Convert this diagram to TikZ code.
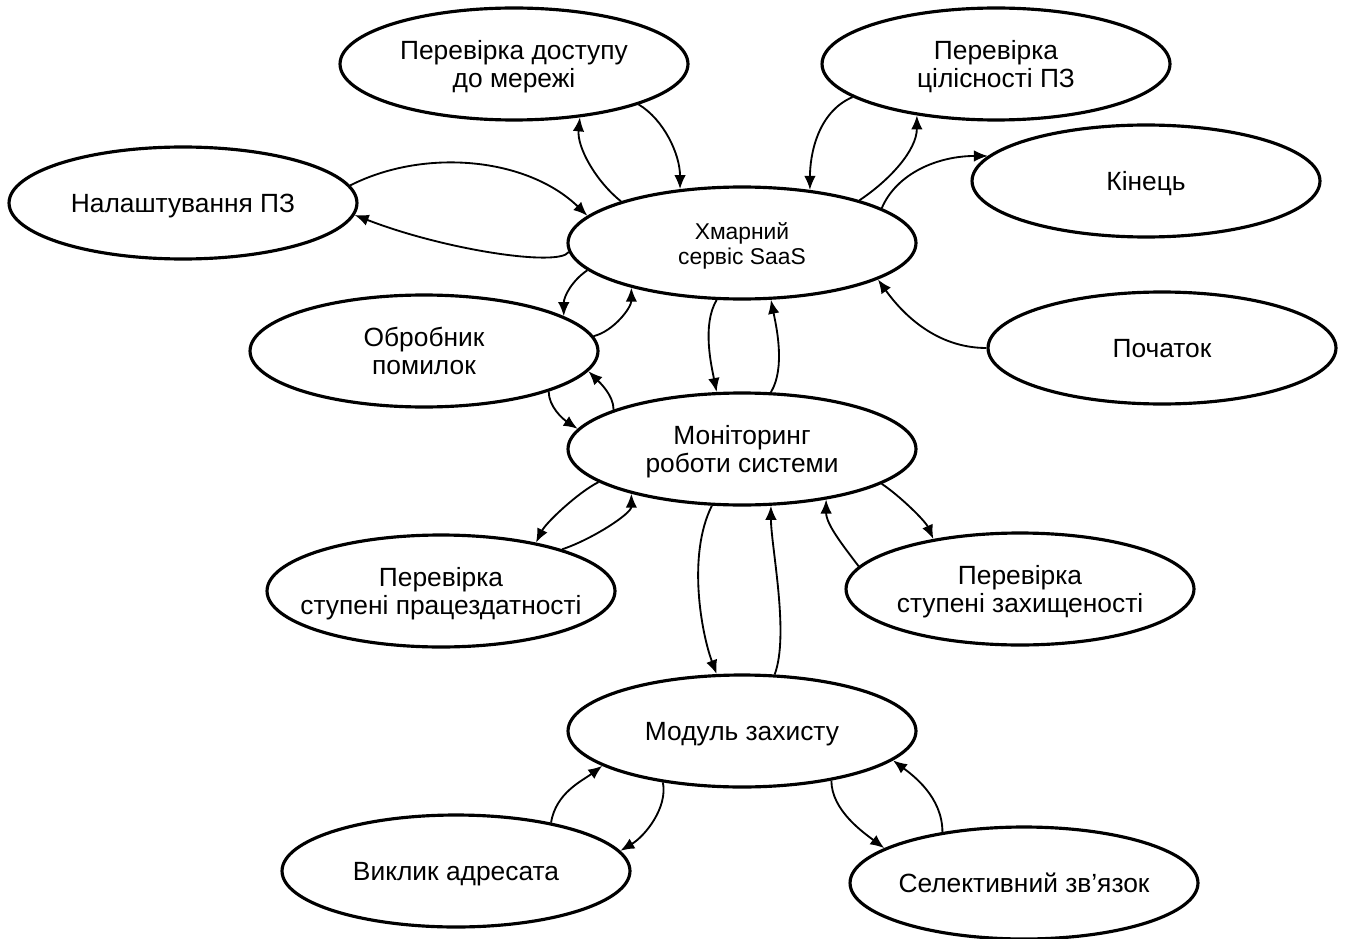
\documentclass[tikz,border=0pt]{standalone}
\usepackage{fontspec}
\setmainfont{Liberation Sans}
\usetikzlibrary{arrows.meta,shapes.geometric}
% label that does not widen its oval; the text sits a little below the middle
\newcommand\ovaltext[1]{\makebox[0pt]{\raisebox{-2.2pt}[\height][\depth]{\begin{tabular}{@{}c@{}}#1\end{tabular}}}}
\begin{document}
\begin{tikzpicture}[x=0.02cm,y=-0.02cm,
  state/.style={ellipse, draw, line width=1.8pt, minimum width=6.96cm,
    minimum height=2.24cm, inner sep=0pt, align=center,
    font=\fontsize{15}{16}\selectfont},
  link/.style={line width=1.05pt, -{Latex[length=2.8mm,width=2.3mm]}}]
\fill[white] (0,0) rectangle (1348,939);
\useasboundingbox (0,0) rectangle (1348,939);

% states
\node[state] (dost) at (514,64)  {\ovaltext{Перевірка доступу\\до мережі}};
\node[state] (cil)  at (996,64)  {\ovaltext{Перевірка\\цілісності ПЗ}};
\node[state] (nal)  at (183,203) {\ovaltext{Налаштування ПЗ}};
\node[state, font=\fontsize{13}{14}\selectfont] (saas) at (742,243) {\ovaltext{Хмарний\\сервіс SaaS}};
\node[state] (kin)  at (1146,181) {\ovaltext{Кінець}};
\node[state] (poch) at (1162,348) {\ovaltext{Початок}};
\node[state] (obr)  at (424,351) {\ovaltext{Обробник\\помилок}};
\node[state] (mon)  at (742,449) {\ovaltext{Моніторинг\\роботи системи}};
\node[state] (prac) at (441,591) {\ovaltext{Перевірка\\ступені працездатності}};
\node[state] (zax)  at (1020,589) {\ovaltext{Перевірка\\ступені захищеності}};
\node[state] (mod)  at (742,731) {\ovaltext{Модуль захисту}};
\node[state] (vyk)  at (456,871) {\ovaltext{Виклик адресата}};
\node[state] (sel)  at (1024,883) {\ovaltext{Селективний зв’язок}};

% transitions around the cloud service
\draw[link] (dost.-18) .. controls +(25,15) and +(0,-35) .. (saas.139);
\draw[link] (saas.161) .. controls +(-25,-20) and +(-3,30) .. (dost.-39);
\draw[link] (nal.6) .. controls +(75,-38) and +(-60,-58) .. (saas.170);
\draw[link] (saas.183) .. controls +(-10,15) and +(90,35) .. (nal.-4);
\draw[link] (saas.190) .. controls +(-15,10) and +(0,-20) .. (obr.14);
\draw[link] (obr.5) .. controls +(20,-5) and +(0,20) .. (saas.-158);
\draw[link] (saas.-114) .. controls +(-15,25) and +(-5,-25) .. (mon.114);
\draw[link] (mon.63) .. controls +(15,-25) and +(5,25) .. (saas.-63);
\draw[link] (saas.14) .. controls +(15,-35) and +(-50,0) .. (kin.171);
\draw[link] (saas.20) .. controls +(30,-20) and +(0,35) .. (cil.-147);
\draw[link] (cil.-167) .. controls +(-35,15) and +(0,-35) .. (saas.38);
\draw[link] (poch.west) .. controls +(-50,0) and +(25,35) .. (saas.-15);

% transitions around monitoring
\draw[link] (obr.-18) .. controls +(0,15) and +(-15,-10) .. (mon.173);
\draw[link] (mon.163) .. controls +(0,-15) and +(10,10) .. (obr.-7);
\draw[link] (mon.193) .. controls +(-20,10) and +(10,-20) .. (prac.27);
\draw[link] (prac.19) .. controls +(30,-10) and +(0,20) .. (mon.-158);
\draw[link] (mon.-118) .. controls +(-25,50) and +(-15,-40) .. (mod.114);
\draw[link] (mod.60) .. controls +(15,-40) and +(0,40) .. (mon.-63);
\draw[link] (zax.172) .. controls +(-15,-20) and +(0,25) .. (mon.-31);
\draw[link] (mon.-14) .. controls +(18,12) and +(-8,-18) .. (zax.150);

% transitions around the protection module
\draw[link] (vyk.27) .. controls +(5,-30) and +(-20,15) .. (mod.-166);
\draw[link] (mod.-147) .. controls +(5,25) and +(25,-15) .. (vyk.7);
\draw[link] (mod.-29) .. controls +(0,30) and +(-20,-15) .. (sel.166);
\draw[link] (sel.148) .. controls +(0,-35) and +(20,15) .. (mod.-11);
\end{tikzpicture}
\end{document}
